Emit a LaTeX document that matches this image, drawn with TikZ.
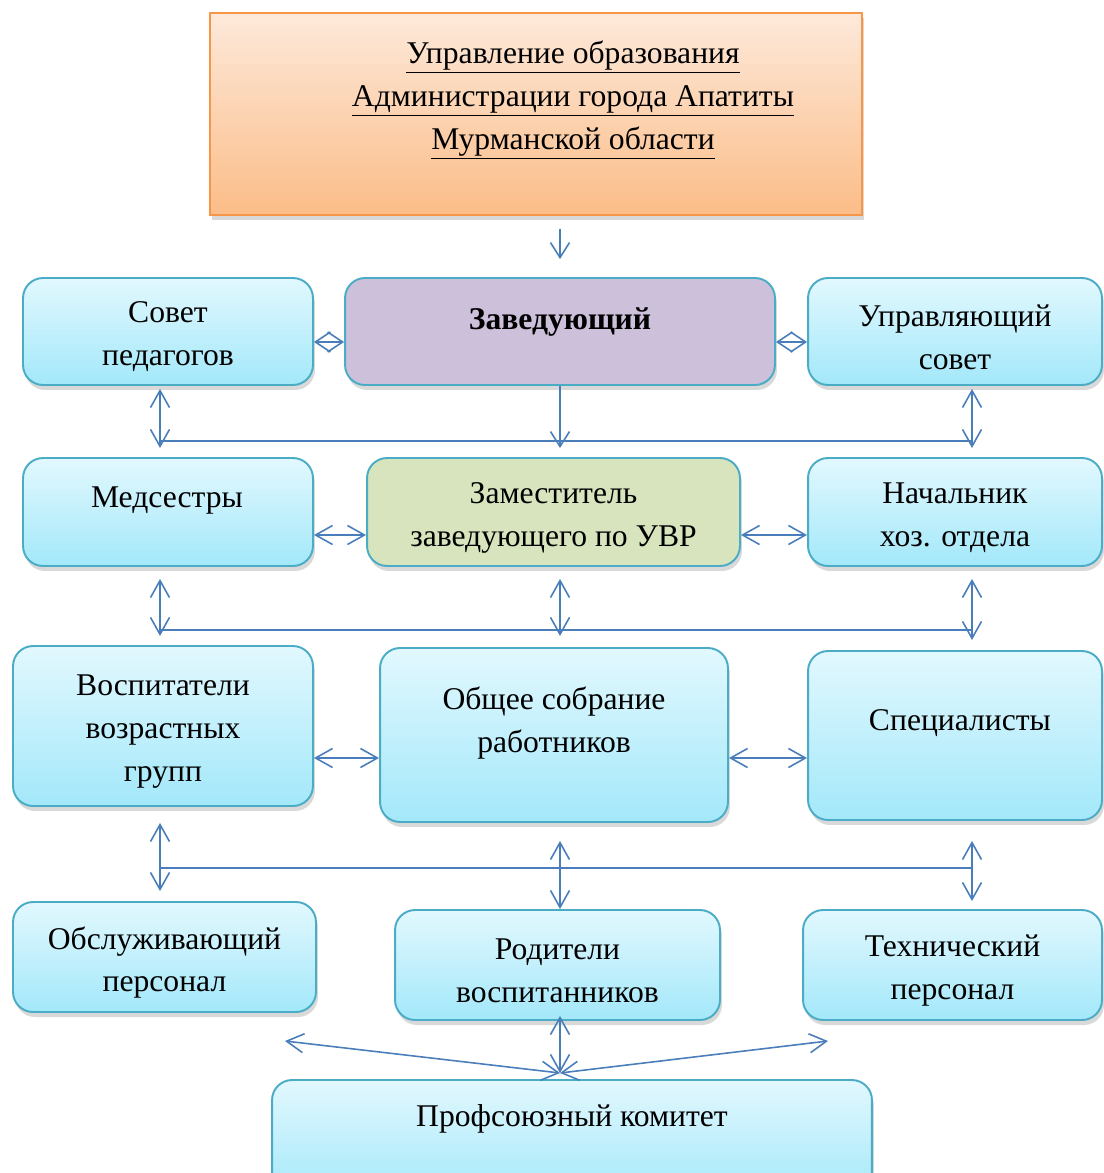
\documentclass[tikz,border=0pt]{standalone}
\usepackage{fontspec}
\setmainfont{Liberation Serif}
\usetikzlibrary{arrows.meta,shadows}

\definecolor{boxline}{HTML}{4BACC6}
\definecolor{cyantop}{HTML}{E2F8FE}
\definecolor{cyanbot}{HTML}{A3E8FA}
\definecolor{orgtop}{HTML}{FDE9DA}
\definecolor{orgbot}{HTML}{FBBD88}
\definecolor{orgline}{HTML}{F79646}
\definecolor{zavfill}{HTML}{CCC0DA}
\definecolor{zamfill}{HTML}{D7E4BD}
\definecolor{arrline}{HTML}{4A7EBB}

\tikzset{
	box/.style={draw=boxline, line width=1.1pt, rounded corners=0.4cm, top color=cyantop, bottom color=cyanbot, align=center, inner sep=0pt,
		drop shadow={shadow xshift=0.04cm, shadow yshift=-0.1cm, opacity=0.3}},
	boxtext/.style={label={[align=center, yshift=-0.11cm]center:#1}},
	zavbox/.style={box, top color=zavfill, bottom color=zavfill},
	zambox/.style={box, top color=zamfill, bottom color=zamfill},
	uobox/.style={draw=orgline, line width=1.1pt, top color=orgtop, bottom color=orgbot, inner sep=0pt,
		drop shadow={shadow xshift=0.04cm, shadow yshift=-0.1cm, opacity=0.3}},
	bus/.style={draw=arrline, line width=0.9pt},
	darr/.style={bus, {Straight Barb[length=0.34cm,width=0.38cm]}-{Straight Barb[length=0.34cm,width=0.38cm]}},
	sarr/.style={bus, -{Straight Barb[length=0.3cm,width=0.38cm]}},
	diam/.style={bus, {Straight Barb[length=0.3cm,width=0.4cm]}-{Straight Barb[length=0.3cm,width=0.4cm]}}
}

\begin{document}
\begin{tikzpicture}[x=0.02cm, y=-0.02cm, font=\fontsize{18}{24.4}\selectfont]
			\useasboundingbox (0,0) rectangle (1103,1173);

			\node[uobox, minimum width=13.04cm, minimum height=4.04cm] at (536,114) (uo) {};
			\node[align=center] at (573,100) (uotext) {\underline{Управление образования}\\\underline{Администрации города Апатиты}\\\underline{Мурманской области}};

			\node[box, minimum width=5.8cm, minimum height=2.14cm, boxtext={Совет\\педагогов}] at (168,331.5) (sovet) {};
			\node[zavbox, minimum width=8.6cm, minimum height=2.14cm] at (560,331.5) (zav) {};
			\node[font=\fontsize{18}{24.4}\selectfont\bfseries] at (560,322) (zavtext) {Заведующий};
			\node[box, minimum width=5.88cm, minimum height=2.14cm, boxtext={Управляющий\\совет}] at (955,331.5) (usovet) {};

			\node[box, minimum width=5.8cm, minimum height=2.16cm] at (168,512) (med) {};
			\node at (167,501) (medtext) {Медсестры};
			\node[zambox, minimum width=7.46cm, minimum height=2.16cm, boxtext={Заместитель\\заведующего по УВР}] at (553.5,512) (zam) {};
			\node[box, minimum width=5.88cm, minimum height=2.16cm, boxtext={Начальник\\хоз. отдела}] at (955,512) (nach) {};

			\node[box, minimum width=6cm, minimum height=3.2cm, boxtext={Воспитатели\\возрастных\\групп}] at (163,726) (vosp) {};
			\node[box, minimum width=6.96cm, minimum height=3.48cm] at (554,735) (obsh) {};
			\node[align=center] at (554,723) (obshtext) {Общее собрание\\работников};
			\node[box, minimum width=5.88cm, minimum height=3.38cm] at (955,735.5) (spec) {};
			\node at (960,723) (spectext) {Специалисты};

			\node[box, minimum width=6.06cm, minimum height=2.2cm, boxtext={Обслуживающий\\персонал}] at (164.5,957) (obsl) {};
			\node[box, minimum width=6.5cm, minimum height=2.2cm, boxtext={Родители\\воспитанников}] at (557.5,965) (rod) {};
			\node[box, minimum width=5.98cm, minimum height=2.2cm, boxtext={Технический\\персонал}] at (952.5,965) (tech) {};

			\node[box, minimum width=12cm, minimum height=2.4cm] at (572,1140) (prof) {};
			\node at (572,1119) (proftext) {Профсоюзный комитет};

			% top levels
			\draw[sarr] ([yshift=-0.26cm]uo.south -| zav.south) -- ([yshift=0.36cm]zav.north);
			\draw[diam] ([yshift=-0.21cm]sovet.east) -- ([yshift=-0.21cm]sovet.east -| zav.west);
			\draw[diam] ([yshift=-0.21cm]zav.east) -- ([yshift=-0.21cm]zav.east -| usovet.west);

			\coordinate (bus1l) at (160,441);
			\coordinate (bus1r) at (972,441);
			\draw[bus] (bus1l) -- (bus1r);
			\draw[darr] ([yshift=-0.06cm]sovet.south -| bus1l) -- ([yshift=-0.14cm]bus1l);
			\draw[darr] ([yshift=-0.06cm]usovet.south -| bus1r) -- ([yshift=-0.14cm]bus1r);
			\draw[sarr] (zav.south) -- ([yshift=-0.14cm]zav.south |- bus1l);

			\draw[darr] ([yshift=-0.46cm]med.east) -- ([yshift=-0.46cm]med.east -| zam.west);
			\draw[darr] ([yshift=-0.46cm]zam.east) -- ([yshift=-0.46cm]zam.east -| nach.west);

			\coordinate (bus2l) at (160,630);
			\coordinate (bus2m) at (560,630);
			\coordinate (bus2r) at (972,630);
			\draw[bus] (bus2l) -- (bus2r);
			\draw[darr] ([yshift=-0.24cm]med.south -| bus2l) -- ([yshift=-0.12cm]bus2l);
			\draw[darr] ([yshift=-0.24cm]zam.south -| bus2m) -- ([yshift=-0.12cm]bus2m);
			\draw[darr] ([yshift=-0.24cm]nach.south -| bus2r) -- ([yshift=-0.2cm]bus2r);

			\draw[darr] ([yshift=-0.64cm]vosp.east) -- ([yshift=-0.64cm]vosp.east -| obsh.west);
			\draw[darr] ([yshift=-0.46cm]obsh.east) -- ([yshift=-0.46cm]obsh.east -| spec.west);

			\coordinate (bus3l) at (160,868);
			\coordinate (bus3m) at (560,868);
			\coordinate (bus3r) at (972,868);
			\draw[bus] (bus3l) -- (bus3r);
			\draw[darr] ([yshift=-0.32cm]vosp.south -| bus3l) -- ([yshift=0.2cm]obsl.north -| bus3l);
			\draw[darr] ([yshift=-0.36cm]obsh.south -| bus3m) -- (rod.north -| bus3m);
			\draw[darr] ([yshift=-0.4cm]spec.south -| bus3r) -- ([yshift=0.16cm]tech.north -| bus3r);

			% union committee
			\coordinate (hub) at (560,1073);
			\coordinate (profl) at (285,1041);
			\coordinate (profr) at (828,1041);
			\draw[darr] (hub) -- (profl);
			\draw[darr] (hub) -- (profr);
			\draw[darr] (hub) -- ([yshift=0.1cm]rod.south -| hub);
		\end{tikzpicture}
\end{document}
